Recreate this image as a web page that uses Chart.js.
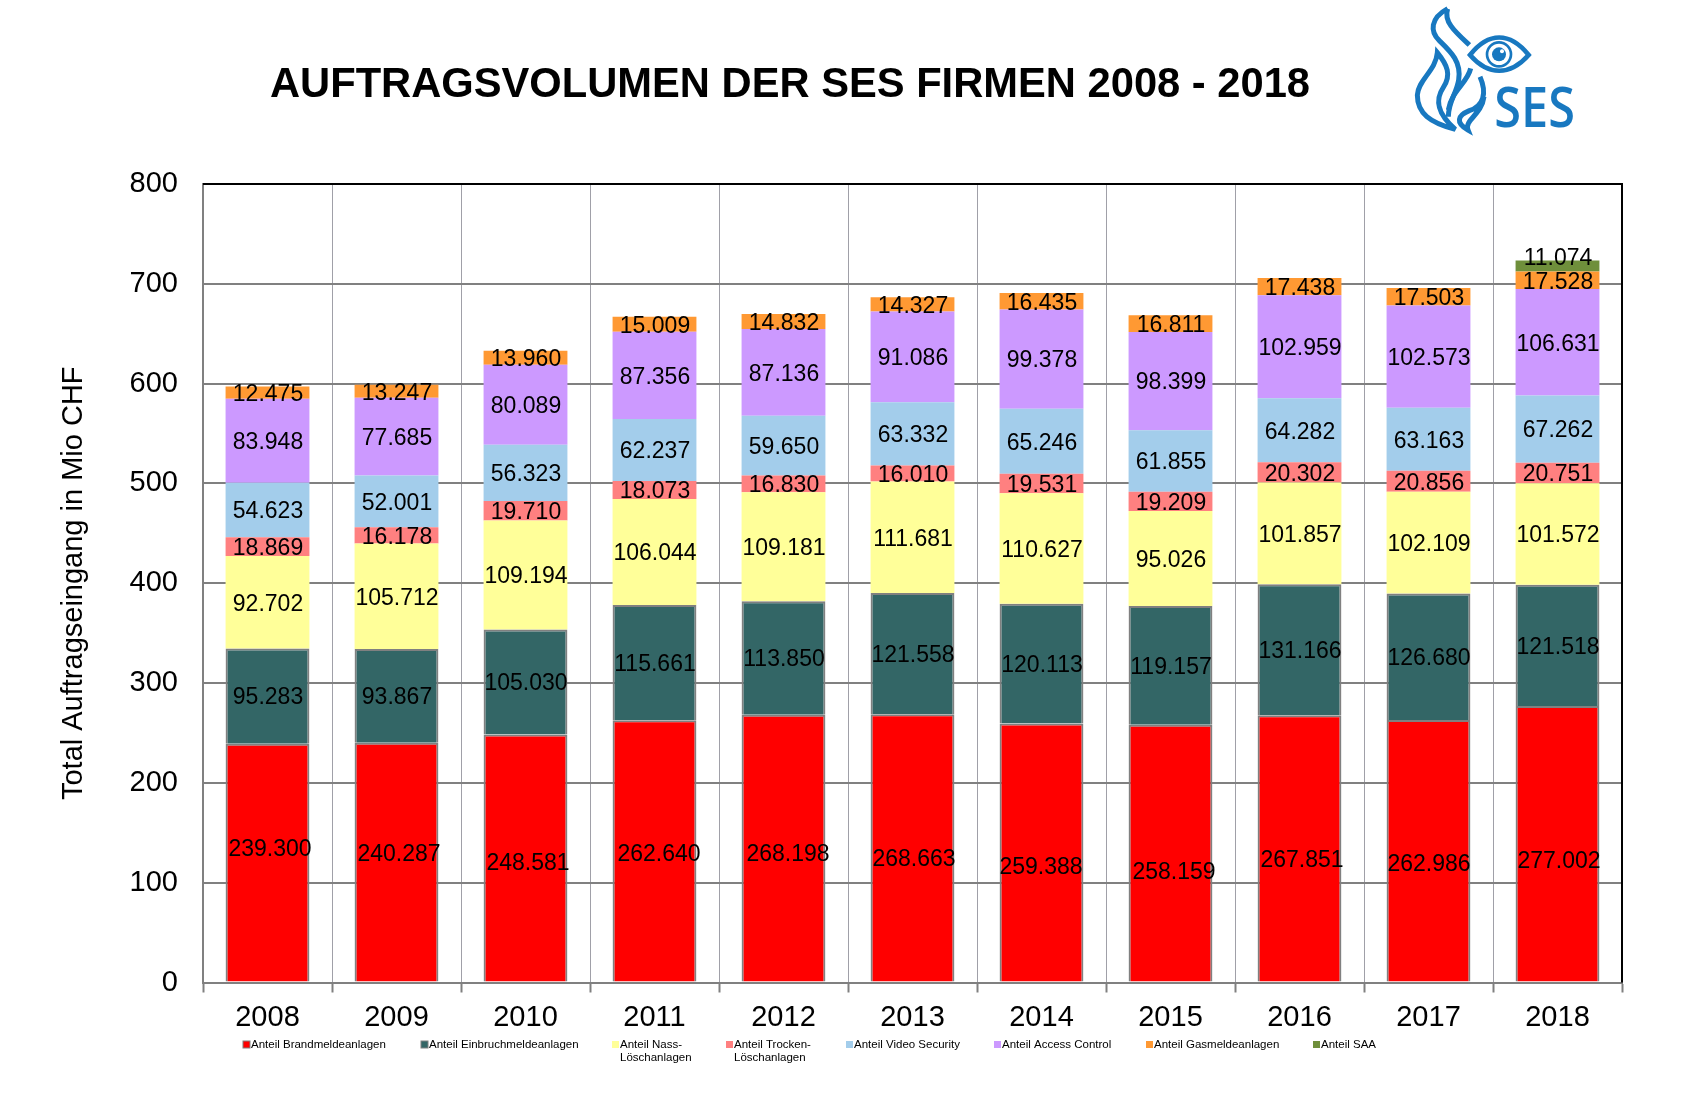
<!DOCTYPE html>
<html>
<head>
<meta charset="utf-8">
<title>Auftragsvolumen der SES Firmen 2008 - 2018</title>
<script src="https://cdn.jsdelivr.net/npm/chart.js@4"></script>
<style>
  html, body { margin: 0; background: #fff; }
  #wrap { position: relative; width: 1683px; height: 1099px; overflow: hidden; }
  #canvas { position: absolute; left: 0; top: 0; }
  #logo { position: absolute; left: 1380px; top: 0; width: 303px; height: 150px; }
</style>
</head>
<body>
<div id="wrap">
  <canvas id="canvas" width="1683" height="1099"></canvas>
  <svg id="logo" viewBox="0 0 909 450">
    <g fill="none" stroke="#1878C0" stroke-width="15" stroke-linejoin="miter">
      <path d="M203,26 C150,55 150,95 178,122 C212,155 245,185 236,240 C230,280 205,305 205,350"/>
      <path d="M203,26 C190,65 225,95 268,135"/>
      <path d="M172,158 C202,195 215,225 190,262 C168,295 165,335 226,388 C150,368 112,340 112,285 C114,240 168,212 172,158 Z"/>
      <path d="M272,205 C262,250 215,270 205,330"/>
      <path d="M300,230 C322,280 310,318 268,332 C232,347 226,368 264,390 C252,360 305,345 312,290"/>
      <path d="M270,165 C325,95 390,95 446,165 C390,228 325,228 270,165 Z" stroke-width="14"/>
      <circle cx="357" cy="163" r="36" stroke-width="8"/>
    </g>
    <circle cx="357" cy="163" r="21" fill="#1878C0"/>
    <circle cx="366" cy="154" r="6" fill="#fff"/>
    <text x="343" y="380" font-family="Open Sans" font-size="168" font-weight="600" fill="#1878C0" textLength="242" lengthAdjust="spacingAndGlyphs">SES</text>
  </svg>
</div>
<script>
const years = ['2008','2009','2010','2011','2012','2013','2014','2015','2016','2017','2018'];
const brandmelde = [239.300,240.287,248.581,262.640,268.198,268.663,259.388,258.159,267.851,262.986,277.002];
const einbruch = [95.283,93.867,105.030,115.661,113.850,121.558,120.113,119.157,131.166,126.680,121.518];
const nass = [92.702,105.712,109.194,106.044,109.181,111.681,110.627,95.026,101.857,102.109,101.572];
const trocken = [18.869,16.178,19.710,18.073,16.830,16.010,19.531,19.209,20.302,20.856,20.751];
const video = [54.623,52.001,56.323,62.237,59.650,63.332,65.246,61.855,64.282,63.163,67.262];
const access = [83.948,77.685,80.089,87.356,87.136,91.086,99.378,98.399,102.959,102.573,106.631];
const gas = [12.475,13.247,13.960,15.009,14.832,14.327,16.435,16.811,17.438,17.503,17.528];
const saa = [null,null,null,null,null,null,null,null,null,null,11.074];

const font = '"Liberation Sans", Arial, sans-serif';

function series(label, data, color, border) {
  return {
    label: label,
    data: data,
    backgroundColor: color,
    borderColor: border || color,
    borderWidth: border ? 2 : 0,
    barPercentage: 0.65,
    categoryPercentage: 1
  };
}

// where the legend entries sit, they are not in a normal row in the original
const legendPos = [
  { x: 251, lines: ['Anteil Brandmeldeanlagen'] },
  { x: 429, lines: ['Anteil Einbruchmeldeanlagen'] },
  { x: 620, lines: ['Anteil Nass-', 'Löschanlagen'] },
  { x: 734, lines: ['Anteil Trocken-', 'Löschanlagen'] },
  { x: 854, lines: ['Anteil Video Security'] },
  { x: 1002, lines: ['Anteil Access Control'] },
  { x: 1154, lines: ['Anteil Gasmeldeanlagen'] },
  { x: 1321, lines: ['Anteil SAA'] }
];

// the labels in the red bars were placed by hand in the original
const redLabelShiftX = [2,2,2,4,4,1,-1,3,2,0,1];
const redLabelShiftY = [-15,-9,4,2,5,10,13,17,10,12,16];

const extras = {
  id: 'extras',
  afterDatasetsDraw(chart) {
    const ctx = chart.ctx;
    const area = chart.chartArea;
    ctx.save();

    // black frame on top and right
    ctx.strokeStyle = '#000';
    ctx.lineWidth = 2;
    ctx.beginPath();
    ctx.moveTo(area.left, area.top);
    ctx.lineTo(area.right, area.top);
    ctx.lineTo(area.right, area.bottom);
    ctx.stroke();

    // values on the bars
    ctx.fillStyle = '#000';
    ctx.font = '23px ' + font;
    ctx.textAlign = 'center';
    ctx.textBaseline = 'middle';
    chart.data.datasets.forEach((ds, i) => {
      chart.getDatasetMeta(i).data.forEach((bar, j) => {
        if (ds.data[j] == null) return;
        const p = bar.getProps(['x', 'y', 'base'], true);
        let dx = 0.5;
        let dy = 2;
        if (i === 0) { dx += redLabelShiftX[j]; dy += redLabelShiftY[j]; }
        if (i === 7) dy -= 9;
        ctx.fillText(ds.data[j].toFixed(3), p.x + dx, (p.y + p.base) / 2 + dy);
      });
    });

    // title
    ctx.font = 'bold 41.7px ' + font;
    ctx.fillText('AUFTRAGSVOLUMEN DER SES FIRMEN 2008 - 2018', 790, 86);

    // legend
    ctx.font = '11.5px ' + font;
    ctx.textAlign = 'left';
    legendPos.forEach((item, i) => {
      const ds = chart.data.datasets[i];
      ctx.fillStyle = ds.backgroundColor;
      ctx.fillRect(item.x - 8, 1041, 7, 7);
      if (ds.borderWidth) {
        ctx.strokeStyle = '#808080';
        ctx.lineWidth = 1;
        ctx.strokeRect(item.x - 8, 1041, 7, 7);
      }
      ctx.fillStyle = '#000';
      item.lines.forEach((line, k) => ctx.fillText(line, item.x, 1045 + k * 13));
    });
    ctx.restore();
  }
};

const chart = new Chart(document.getElementById('canvas'), {
  type: 'bar',
  data: {
    labels: years,
    datasets: [
      series('Anteil Brandmeldeanlagen', brandmelde, '#FF0000', '#808080'),
      series('Anteil Einbruchmeldeanlagen', einbruch, '#336666', '#808080'),
      series('Anteil Nass-Löschanlagen', nass, '#FFFF99'),
      series('Anteil Trocken-Löschanlagen', trocken, '#FF8080'),
      series('Anteil Video Security', video, '#A3CDEB'),
      series('Anteil Access Control', access, '#CC99FF'),
      series('Anteil Gasmeldeanlagen', gas, '#FF9933'),
      series('Anteil SAA', saa, '#6F8F3B')
    ]
  },
  options: {
    responsive: false,
    animation: false,
    layout: { padding: { top: 184, right: 61, left: 0, bottom: 0 } },
    plugins: { legend: { display: false }, title: { display: false }, tooltip: { enabled: false } },
    scales: {
      x: {
        stacked: true,
        afterFit: (s) => { s.height = 116.5; },
        grid: { color: '#A0A0A8', lineWidth: 1, tickLength: 10, tickColor: '#808080', tickWidth: 2 },
        border: { color: '#808080', width: 2 },
        ticks: { color: '#000', font: { family: font, size: 29 }, padding: 8, maxRotation: 0 }
      },
      y: {
        stacked: true,
        min: 0,
        max: 800,
        afterFit: (s) => { s.width = 203; },
        grid: { color: '#808080', lineWidth: 2, drawTicks: false },
        border: { color: '#808080', width: 2 },
        ticks: { stepSize: 100, color: '#000', font: { family: font, size: 29 }, padding: 25 },
        title: {
          display: true,
          text: 'Total Auftragseingang in Mio CHF',
          color: '#000',
          font: { family: font, size: 29 },
          padding: { top: 57, bottom: 0 }
        }
      }
    }
  },
  plugins: [extras]
});
</script>
</body>
</html>
